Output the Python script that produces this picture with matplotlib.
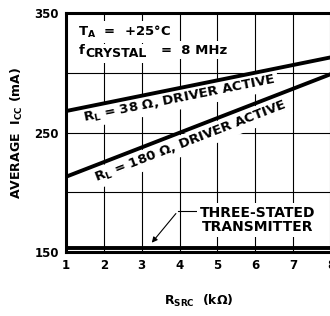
import matplotlib.pyplot as plt

plt.rcParams['font.family'] = ['DejaVu Sans']
plt.rcParams['font.weight'] = 'bold'
plt.rcParams['mathtext.fontset'] = 'dejavusans'
plt.rcParams['mathtext.default'] = 'bf'

# data
rsrc = [1, 8]
icc_38 = [268, 313]
icc_180 = [213, 299]
icc_tristate = [153, 153]

x_ticks = [1, 2, 3, 4, 5, 6, 7, 8]
y_ticks = [150, 200, 250, 300, 350]
y_labels = ['150', '', '250', '', '350']

fig = plt.figure(figsize=(3.3, 3.16), dpi=100)
ax = fig.add_axes([0.2, 0.2025, 0.803, 0.756])

ax.plot(rsrc, icc_38, color='black', lw=2.8, solid_capstyle='butt', zorder=6)
ax.plot(rsrc, icc_180, color='black', lw=2.8, solid_capstyle='butt', zorder=6)
ax.plot(rsrc, icc_tristate, color='black', lw=2.8, solid_capstyle='butt', zorder=6)

ax.set_xlim(1, 8)
ax.set_ylim(150, 350)
ax.set_xticks(x_ticks)
ax.set_yticks(y_ticks)
ax.set_yticklabels(y_labels)
ax.tick_params(length=0, labelsize=8.5, pad=5)
for lbl in ax.get_xticklabels() + ax.get_yticklabels():
    lbl.set_fontweight('bold')
ax.grid(True, color='black', lw=0.8)
for sp in ax.spines.values():
    sp.set_linewidth(2.2)
    sp.set_zorder(7)

ax.set_ylabel('AVERAGE  I$_{CC}$ (mA)', fontsize=9, fontweight='bold', labelpad=7)
ax.xaxis.set_label_coords(0.555, -0.17)
ax.set_xlabel('R$_{SRC}$  (k$\\Omega$)', fontsize=9, fontweight='bold')

box = dict(facecolor='white', edgecolor='none', pad=2)
ax.text(1.33, 334, 'T$_A$  =  +25°C', fontsize=9.5, fontweight='bold', va='center', bbox=box)
# f with a large CRYSTAL subscript
ax.text(1.52, 316, 'CRYSTAL', fontsize=9, fontweight='bold', va='center', bbox=box, zorder=3)
ax.text(3.5, 319, '=  8 MHz', fontsize=9.5, fontweight='bold', va='center', bbox=box, zorder=3)
ax.text(1.33, 319, 'f', fontsize=9.5, fontweight='bold', va='center', zorder=4)

ax.text(4.0, 278, 'R$_L$ = 38 $\\Omega$, DRIVER ACTIVE', fontsize=9.5, fontweight='bold',
        rotation=11.4, ha='center', va='center', rotation_mode='anchor', bbox=box)
ax.text(4.3, 242, 'R$_L$ = 180 $\\Omega$, DRIVER ACTIVE', fontsize=9.5, fontweight='bold',
        rotation=21.2, ha='center', va='center', rotation_mode='anchor', bbox=box)

ax.text(6.07, 177, 'THREE-STATED\nTRANSMITTER', fontsize=10, fontweight='bold',
        ha='center', va='center', linespacing=1.0, bbox=box)
ax.plot([4.45, 3.95], [184, 184], color='black', lw=0.8)
ax.annotate('', xy=(3.22, 156), xytext=(3.95, 184),
            arrowprops=dict(arrowstyle='-|>', color='black', lw=0.8, mutation_scale=8))

fig.savefig('out.png', dpi=100)
